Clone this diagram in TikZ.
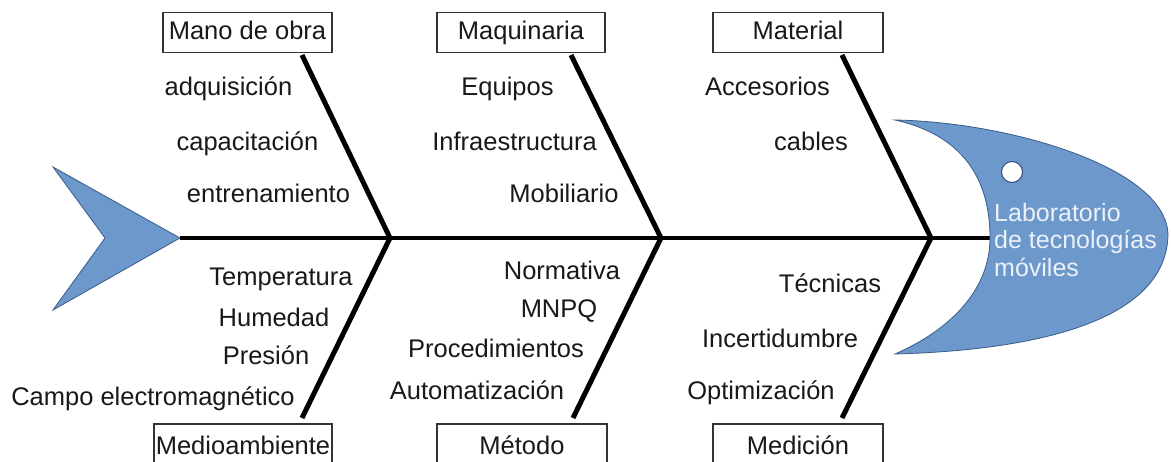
\documentclass[tikz,border=0pt]{standalone}
\usepackage{fontspec}
\setmainfont{Liberation Sans}
\definecolor{fishblue}{RGB}{108,152,204}
\definecolor{fishedge}{RGB}{58,92,138}
\definecolor{labtxt}{RGB}{236,241,248}
\definecolor{ink}{RGB}{25,25,25}
\begin{document}
\begin{tikzpicture}[x=1pt,y=-1pt,
  lbl/.style={font=\fontsize{25.5}{27}\selectfont, text=ink, inner sep=0pt, text height=18pt, text depth=5pt},
  catbox/.style={draw=black!80, line width=1.2pt, minimum height=40pt, inner sep=0pt,
                 font=\fontsize{25.5}{27}\selectfont, text=ink, text height=18pt, text depth=5pt},
  bone/.style={line width=5pt, black},
  spineline/.style={line width=4pt, black},
  fish/.style={fill=fishblue, draw=fishedge, line width=0.8pt}]
\useasboundingbox (0,0) rectangle (1171,461);
\clip (0,0) rectangle (1171,461);
\fill[white] (0,0) rectangle (1171,461);

% tail
\coordinate (tailpt) at (180,238);
\filldraw[fish] (53,167) -- (tailpt) -- (53,310) -- (105,238) -- cycle;

% spine
\coordinate (spineend) at (995,238);
\draw[spineline] (tailpt) -- (spineend);

% head
\filldraw[fish] (895,120) .. controls (1010,122) and (1167,168) .. (1168,235)
  .. controls (1166,320) and (1040,350) .. (895,354)
  .. controls (950,330) and (990,290) .. (990,238)
  .. controls (990,178) and (962,135) .. cycle;
\node[circle, fill=white, draw=fishedge!80!black, line width=1pt, minimum size=21pt, inner sep=0pt] (eye) at (1012,172) {};
\node[anchor=west, align=left, inner sep=0pt, text=labtxt, font=\fontsize{25}{27.5}\selectfont] (effect) at (994,240)
  {Laboratorio\\de tecnologías\\móviles};

% category boxes
\node[catbox, minimum width=169pt] (mano) at (247.5,32.5) {Mano de obra};
\node[catbox, minimum width=168pt] (maq) at (521,32.5) {Maquinaria};
\node[catbox, minimum width=170pt] (mat) at (798,32.5) {Material};
\node[catbox, minimum width=178pt, minimum height=48pt] (medio) at (243,448) {Medioambiente};
\node[catbox, minimum width=170pt, minimum height=48pt] (metodo) at (522,448) {Método};
\node[catbox, minimum width=170pt, minimum height=48pt] (medicion) at (798,448) {Medición};

% bones
\coordinate (j1) at (390,238);
\coordinate (j2) at (661,238);
\coordinate (j3) at (931,238);
\coordinate (t1) at (302,55);
\coordinate (t2) at (571,55);
\coordinate (t3) at (842,55);
\coordinate (b1) at (302,418);
\coordinate (b2) at (573,418);
\coordinate (b3) at (842,418);
\draw[bone] (t1) -- (j1) -- (b1);
\draw[bone] (t2) -- (j2) -- (b2);
\draw[bone] (t3) -- (j3) -- (b3);

% causes: top-left
\node[lbl] (adq) at (228.5,89) {adquisición};
\node[lbl] (cap) at (247.5,144) {capacitación};
\node[lbl] (ent) at (268.5,196) {entrenamiento};
% top-middle
\node[lbl] (equ) at (507.5,89) {Equipos};
\node[lbl] (inf) at (514.5,144) {Infraestructura};
\node[lbl] (mob) at (564,196) {Mobiliario};
% top-right
\node[lbl] (acc) at (767.5,89) {Accesorios};
\node[lbl] (cab) at (811,144) {cables};
% bottom-left
\node[lbl] (tem) at (281,279) {Temperatura};
\node[lbl] (hum) at (274,320) {Humedad};
\node[lbl] (pre) at (266,358) {Presión};
\node[lbl] (cam) at (153,399) {Campo electromagnético};
% bottom-middle
\node[lbl] (nor) at (562,273) {Normativa};
\node[lbl] (mnp) at (559,311) {MNPQ};
\node[lbl] (pro) at (496,351) {Procedimientos};
\node[lbl] (aut) at (477,393) {Automatización};
% bottom-right
\node[lbl] (tec) at (830,286) {Técnicas};
\node[lbl] (inc) at (780,341) {Incertidumbre};
\node[lbl] (opt) at (761,393) {Optimización};
\end{tikzpicture}
\end{document}
